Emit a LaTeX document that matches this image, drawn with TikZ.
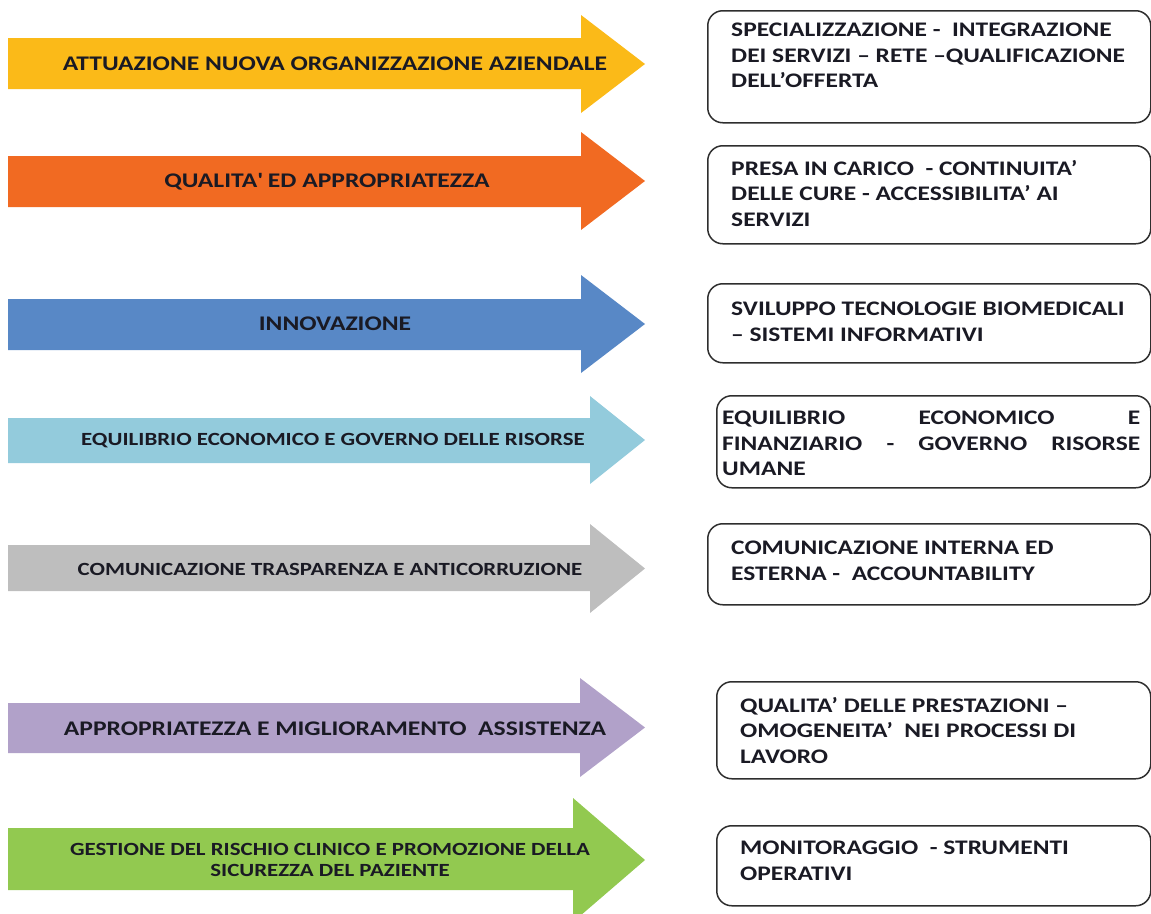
\documentclass[tikz,border=0pt]{standalone}
\usepackage{fontspec}
\setmainfont{Carlito}[FakeStretch=1.23]
\usetikzlibrary{positioning}
\definecolor{ayellow}{HTML}{FBBA18}
\definecolor{aorange}{HTML}{F16A22}
\definecolor{ablue}{HTML}{5888C6}
\definecolor{alight}{HTML}{93CBDC}
\definecolor{agrey}{HTML}{BEBEBE}
\definecolor{apurple}{HTML}{B1A1C9}
\definecolor{agreen}{HTML}{92C950}
\definecolor{inkdark}{HTML}{1A1A24}
\definecolor{framegrey}{HTML}{2E2E2E}

\begin{document}
\begin{tikzpicture}[x=1pt, y=-1pt,
    lbl/.style={inner sep=0pt, align=center, text=inkdark,
        font=\fontsize{20.8}{21}\selectfont\bfseries},
    lblsmall/.style={lbl, font=\fontsize{18.6}{20.5}\selectfont\bfseries},
    frame/.style={draw=framegrey, line width=1.5pt, rounded corners=15pt,
        anchor=north west, inner sep=0pt, minimum width=443pt},
    boxtext/.style={inner sep=0pt, align=left, anchor=north west, text=inkdark,
        font=\fontsize{20.7}{25.6}\selectfont\bfseries}]
    \useasboundingbox (0,0) rectangle (1151,913);

    % arrows: body top / body bottom / head top / head bottom / head base / colour
    \foreach \bt/\bb/\hs/\he/\hx/\col in {38/89/15/113/581/ayellow,
            156/207/132/230/581/aorange, 299/350/275/373/581/ablue,
            418/463/396/484/590/alight, 545/591/524/613/590/agrey,
            703/753/678/777/580/apurple, 828/890/798/922/573/agreen}
        \fill[\col] (8,\bt) -- (\hx,\bt) -- (\hx,\hs) -- (645,{(\hs+\he)/2})
            -- (\hx,\he) -- (\hx,\bb) -- (8,\bb) -- cycle;

    \node[lbl] (goal1) at (335,64) {ATTUAZIONE NUOVA ORGANIZZAZIONE AZIENDALE};
    \node[lbl] (goal2) at (327,182) {QUALITA\textquotesingle{} ED APPROPRIATEZZA};
    \node[lbl] (goal3) at (335,324) {INNOVAZIONE};
    \node[lblsmall] (goal4) at (333,441) {EQUILIBRIO ECONOMICO E GOVERNO DELLE RISORSE};
    \node[lblsmall] (goal5) at (330,569) {COMUNICAZIONE TRASPARENZA E ANTICORRUZIONE};
    \node[lbl] (goal6) at (335,729) {APPROPRIATEZZA E MIGLIORAMENTO~ ASSISTENZA};
    \node[lblsmall] (goal7) at (330,860) {GESTIONE DEL RISCHIO CLINICO E PROMOZIONE DELLA\\SICUREZZA DEL PAZIENTE};

    % boxes on the right
    \node[frame, minimum height=112pt] (box1) at (707,10) {};
    \node[frame, minimum height=98pt] (box2) at (707,145) {};
    \node[frame, minimum height=79pt] (box3) at (707,283) {};
    \node[frame, minimum width=434pt, minimum height=92pt] (box4) at (716,395) {};
    \node[frame, minimum height=81pt] (box5) at (707,523) {};
    \node[frame, minimum width=434pt, minimum height=97pt] (box6) at (716,681) {};
    \node[frame, minimum width=434pt, minimum height=80pt] (box7) at (716,825) {};

    \node[boxtext, below right=13pt and 24pt of box1.north west] (aim1)
        {SPECIALIZZAZIONE -~ INTEGRAZIONE\\DEI SERVIZI – RETE –QUALIFICAZIONE\\DELL’OFFERTA};
    \node[boxtext, below right=15pt and 24pt of box2.north west] (aim2)
        {PRESA IN CARICO~ - CONTINUITA’\\DELLE CURE - ACCESSIBILITA’ AI\\SERVIZI};
    \node[boxtext, below right=19pt and 24pt of box3.north west] (aim3)
        {SVILUPPO TECNOLOGIE BIOMEDICALI\\– SISTEMI INFORMATIVI};
    \node[boxtext, below right=16pt and 6pt of box4.north west] (aim4)
        {\makebox[418pt][s]{EQUILIBRIO ECONOMICO E}\\
         \makebox[418pt][s]{FINANZIARIO - GOVERNO RISORSE}\\UMANE};
    \node[boxtext, below right=18pt and 24pt of box5.north west] (aim5)
        {COMUNICAZIONE INTERNA ED\\ESTERNA -~ ACCOUNTABILITY};
    \node[boxtext, below right=16pt and 24pt of box6.north west] (aim6)
        {QUALITA’ DELLE PRESTAZIONI –\\OMOGENEITA’~ NEI PROCESSI DI\\LAVORO};
    \node[boxtext, below right=16pt and 24pt of box7.north west] (aim7)
        {MONITORAGGIO~ - STRUMENTI\\OPERATIVI};
\end{tikzpicture}
\end{document}
